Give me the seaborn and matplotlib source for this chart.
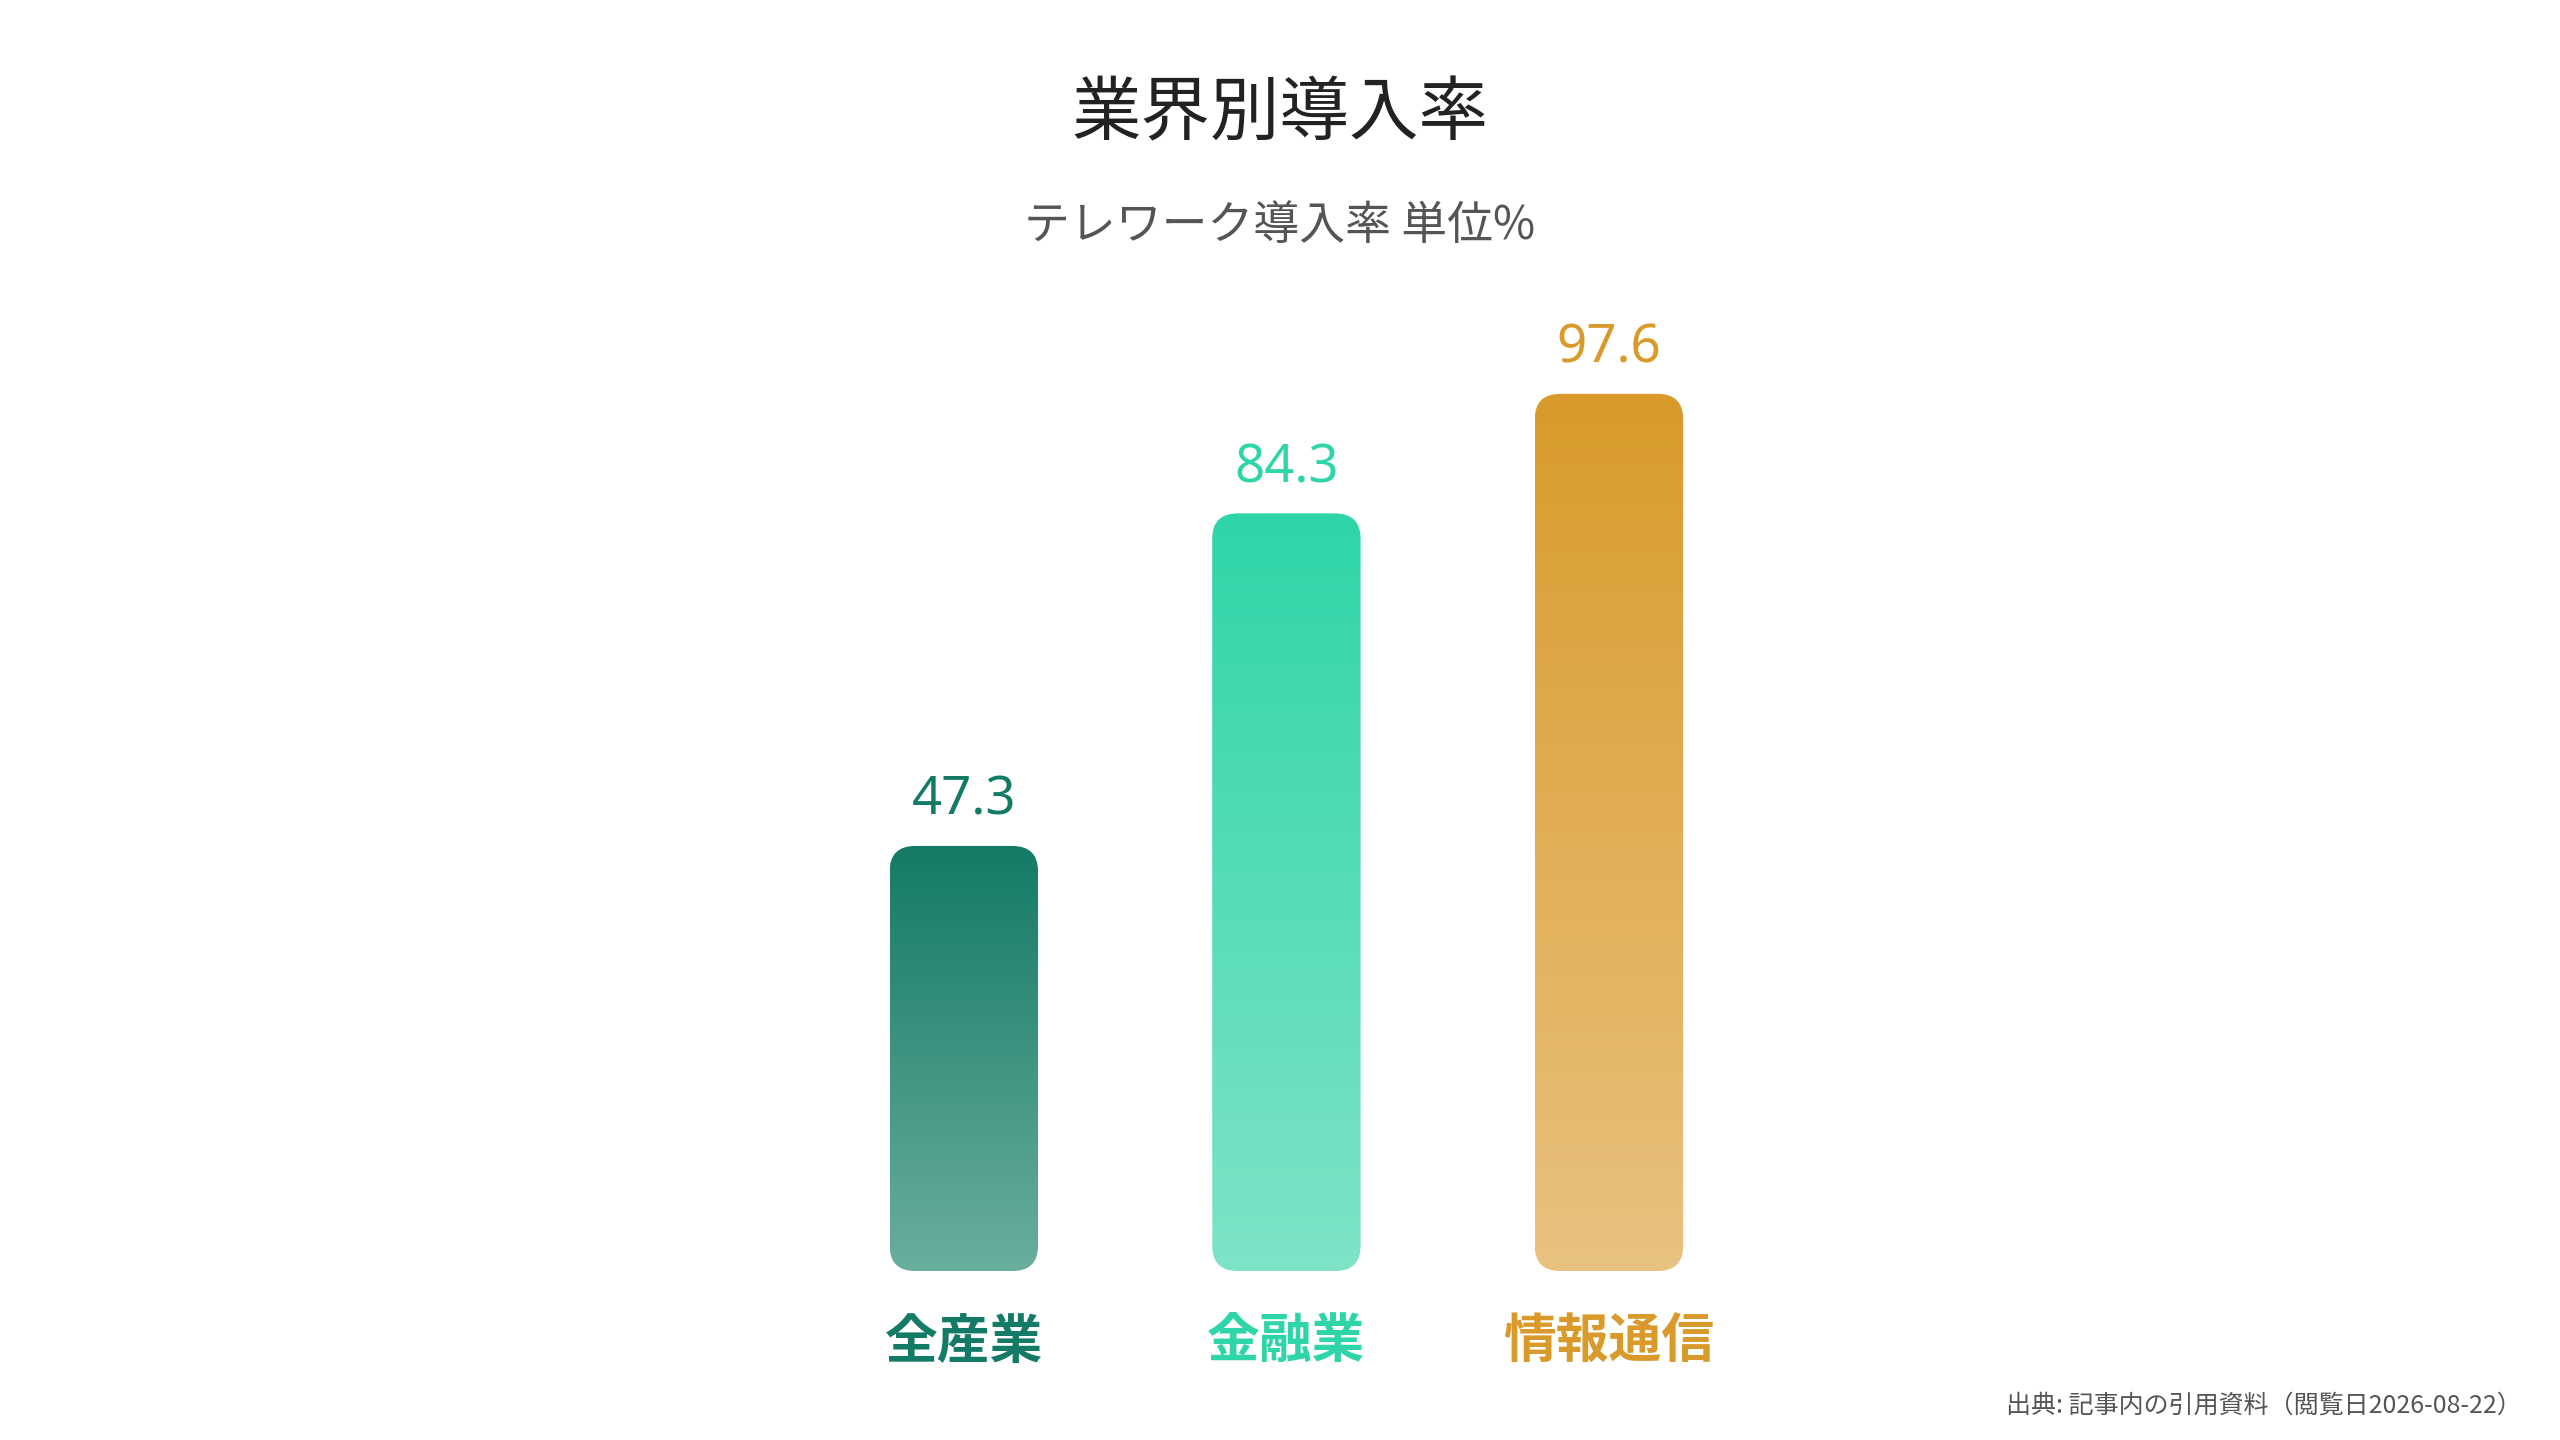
import matplotlib
matplotlib.use("Agg")
import matplotlib.pyplot as plt
import seaborn as sns
import numpy as np
import pandas as pd
from matplotlib.patches import FancyBboxPatch
from matplotlib.colors import LinearSegmentedColormap

categories = ["全産業", "金融業", "情報通信"]
values = [47.3, 84.3, 97.6]
top_colors = ["#137a66", "#2ed5a8", "#d99a2b"]
bottom_colors = ["#6aae9e", "#7fe3c8", "#e8c27f"]

sns.set_theme(style="white")
plt.rcParams['font.family'] = ['Noto Sans CJK JP', 'DejaVu Sans']

fig = plt.figure(figsize=(25.6, 14.4), dpi=100)
ax = fig.add_axes([0.3135, 0.1173, 0.378, 0.6242])
df = pd.DataFrame({"cat": categories, "val": values})
sns.barplot(data=df, x="cat", y="val", ax=ax, width=0.46, color="white")
ax.set_xlim(-0.5, 2.5)
ax.set_ylim(0, 100)

for i, p in enumerate(ax.patches):
    x0, w, h = p.get_x(), p.get_width(), p.get_height()
    p.set_visible(False)
    cmap = LinearSegmentedColormap.from_list("g", [bottom_colors[i], top_colors[i]])
    grad = np.linspace(0, 1, 256).reshape(-1, 1)
    im = ax.imshow(grad, cmap=cmap, origin="lower", aspect="auto",
                   extent=[x0, x0 + w, 0, h], zorder=2)
    clip = FancyBboxPatch((x0, 0), w, h, boxstyle="round,pad=0,rounding_size=0.08",
                          mutation_aspect=35, transform=ax.transData,
                          facecolor="none", edgecolor="none")
    ax.add_patch(clip)
    im.set_clip_path(clip)
    ax.text(x0 + w / 2, h + 2.0, f"{values[i]:.1f}", ha="center", va="bottom",
            fontsize=38, fontweight="bold", color=top_colors[i],
            family=['Noto Sans'])
    ax.text(x0 + w / 2, -5.0, categories[i], ha="center", va="top",
            fontsize=38, fontweight="bold", color=top_colors[i])

ax.set_xticks([])
ax.set_yticks([])
ax.set_xlabel("")
ax.set_ylabel("")
for s in ax.spines.values():
    s.set_visible(False)

fig.text(0.5, 0.92, "業界別導入率", ha="center", va="center", fontsize=50, color="#222222")
fig.text(0.5, 0.843, "テレワーク導入率 単位%", ha="center", va="center", fontsize=33, color="#555555")
fig.text(0.985, 0.024, "出典: 記事内の引用資料（閲覧日2026-08-22）", ha="right", va="center",
         fontsize=18, color="#555555")

fig.savefig("out.png", dpi=100)
